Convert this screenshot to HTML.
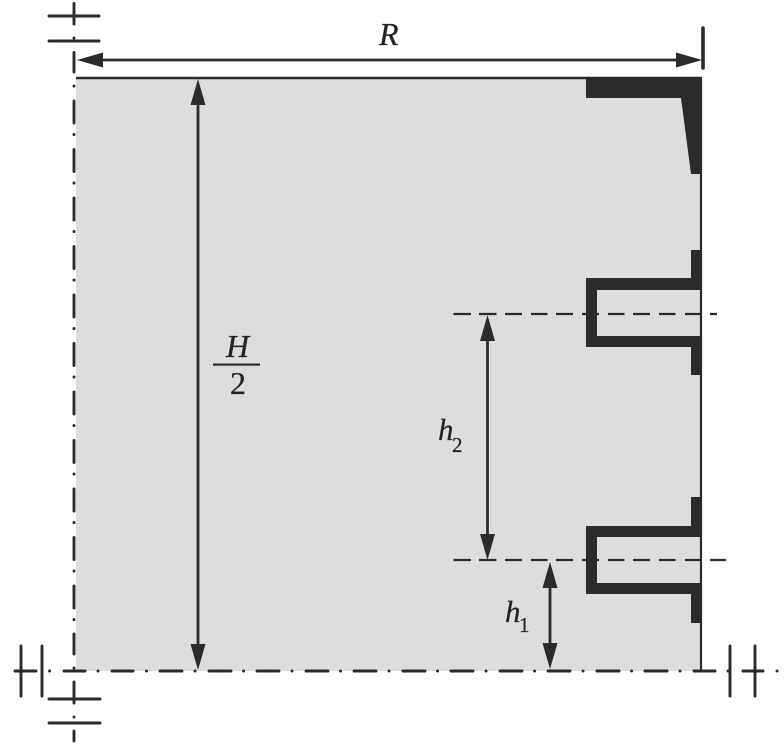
<!DOCTYPE html>
<html><head><meta charset="utf-8"><style>
html,body{margin:0;padding:0;background:#fff;width:784px;height:750px;overflow:hidden}
svg{display:block}
text{font-family:"Liberation Serif",serif;fill:#232224;stroke:#232224;stroke-width:.25}
</style></head><body>
<svg width="784" height="750" viewBox="0 0 784 750" xmlns="http://www.w3.org/2000/svg">
<rect x="76" y="78" width="625" height="593" fill="#dcdddf"/>
<g stroke="#2b2a2c" fill="none">
<path d="M76 78H702" stroke-width="2.4"/>
<path d="M701 78V671" stroke-width="2.2"/>
<!-- centre lines -->
<g stroke-width="2.900" stroke-linecap="round">
<path d="M74 3.500V24M74 52.500V72M74 101V123M74 149.500V171.500M74 198V220M74 246.500V268.500M74 295V317M74 343.500V365.500M74 392V414M74 440.500V462.500M74 489V511M74 537.500V559.500M74 586V608M74 634V654M74 682V703M74 731V741"/>
<path d="M74 38v.1M74 86v.1M74 134.500v.1M74 183v.1M74 231.500v.1M74 280v.1M74 328.500v.1M74 377v.1M74 425.500v.1M74 474v.1M74 522.500v.1M74 571v.1M74 619.500v.1M74 668v.1M74 717v.1"/>
<path d="M49 16H99M49 41H99M49 699H100M49 723H100"/>
<path d="M15 671H36M64 671H85M112 671H133M160 671H182M209 671H231M257 671H279M306 671H328M354 671H376M403 671H425M451 671H473M500 671H522M548 671H570M597 671H619M645 671H667M694 671H715M743 671H763"/>
<path d="M49.500 671h.1M98 671h.1M146.500 671h.1M195 671h.1M243.500 671h.1M292 671h.1M340.500 671h.1M389 671h.1M437.500 671h.1M486 671h.1M534.500 671h.1M583 671h.1M631.500 671h.1M680 671h.1M728 671h.1M777 671h.1"/>
<path d="M21 646V696M42 646V696M730 646V696M755 646V696"/>
</g>
<path d="M703 28V68" stroke-width="3.600" stroke-linecap="round"/>
<!-- dashed -->
<path d="M453.500 314H471M479 314H496.500M505 314H522M531 314H547.500M556 314H573M582 314H599M608 314H624.500M633 314H650M659 314H675.500M685 314H701.500M710 314H717" stroke-width="2.300"/>
<path d="M453.500 560H471M479 560H496.500M505 560H522M531 560H547.500M556 560H573M582 560H599M608 560H624.500M633 560H650M659 560H675.500M685 560H701.500M710 560H726" stroke-width="2.300"/>
<!-- arrows -->
<g stroke-width="2.800">
<path d="M100 60H680"/>
<path d="M198 100V650"/>
<path d="M487.500 338V536"/>
<path d="M550 585V648"/>
</g>
</g>
<g fill="#2b2a2c">
<path d="M77 60L103 52.500V67.500Z"/><path d="M702 60L676 52.500V67.500Z"/>
<path d="M198 79L190.500 105H205.500Z"/><path d="M198 670L190.500 644H205.500Z"/>
<path d="M487.500 315L480 341H495Z"/><path d="M487.500 560L480 534H495Z"/>
<path d="M550 562L542.500 588H557.500Z"/><path d="M550 669L542.500 643H557.500Z"/>
<path d="M586 77H702V174H691L681 98H586Z"/>
<path d="M691 250H702V375H691V347H586V278H691ZM597 290V336H701V290Z" fill-rule="evenodd"/>
<path d="M691 497H702V623H691V594H586V526H691ZM597 537V583H701V537Z" fill-rule="evenodd"/>
<rect x="213" y="363.500" width="47" height="2.200"/>
</g>
<text x="379" y="45" font-size="32" font-style="italic">R</text>
<text x="226" y="357" font-size="32" font-style="italic">H</text>
<text x="230" y="394" font-size="32">2</text>
<text x="438" y="440" font-size="31" font-style="italic">h</text>
<text x="452" y="452" font-size="21">2</text>
<text x="505" y="622" font-size="31" font-style="italic">h</text>
<text x="519" y="632" font-size="21">1</text>
</svg>
</body></html>
